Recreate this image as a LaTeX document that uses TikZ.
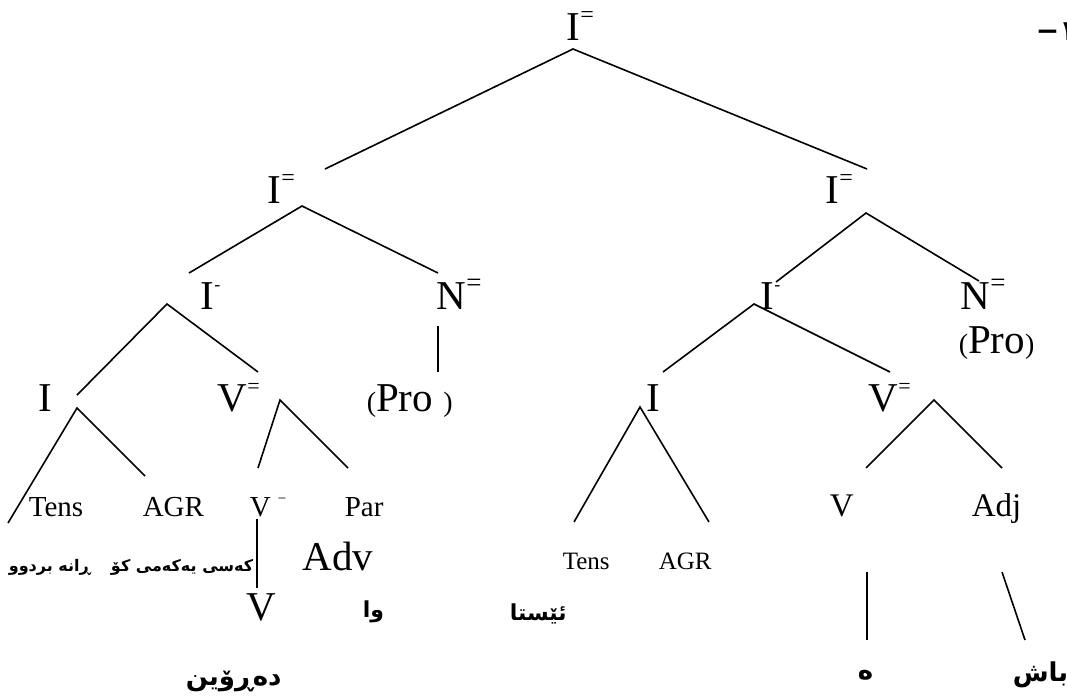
\documentclass[tikz,border=0pt]{standalone}
\usepackage{fontspec}
\usepackage{graphicx}
\setmainfont{Liberation Serif}
\newfontfamily\arabicfont[Script=Arabic]{DejaVu Sans}
\TeXXeTstate=1
\newcommand{\eqsup}[1][24]{\raisebox{18pt}{\fontsize{#1}{#1}\selectfont =}}
\newcommand{\hysup}{\raisebox{19pt}{\fontsize{18}{18}\selectfont -}}
\newcommand{\mnsup}{\raisebox{13pt}{\fontsize{15}{15}\selectfont −}}
\newcommand{\pn}[1]{{\fontsize{28}{28}\selectfont #1}}
\tikzset{
  lbl/.style={inner sep=0pt, anchor=base west},
  big/.style={lbl, font=\fontsize{41}{41}\selectfont},
  mid/.style={lbl, font=\fontsize{33}{33}\selectfont},
  sml/.style={lbl, font=\fontsize{29}{29}\selectfont},
  xsml/.style={lbl, font=\fontsize{25}{25}\selectfont},
  ku/.style={lbl, font=\arabicfont\bfseries\fontsize{#1}{#1}\selectfont}
}
\begin{document}
\begin{tikzpicture}[x=1pt, y=-1pt, line width=1.6pt]
    \useasboundingbox (0,0) rectangle (1067,697);
    \node[big] (top) at (566,40) {I\eqsup};
    \node[big] (ieL) at (267,203) {I\eqsup};
    \node[big] (ieR) at (825,203) {I\eqsup};
    \node[big] (ihL) at (200,309) {I\hysup};
    \node[big] (neL) at (436,309) {N\eqsup[27]};
    \node[big] (ihR) at (760,309) {I\hysup};
    \node[big] (neR) at (960,309) {N\eqsup[27]};
    \node[big] (proR) at (958,353) {\pn{(}Pro\pn{)}};
    \node[big] (iL) at (38,411) {I};
    \node[big] (veL) at (217,411) {V\eqsup[22]};
    \node[big] (proL) at (366,411) {\pn{(}Pro \pn{)}};
    \node[big] (iR) at (646,411) {I};
    \node[big] (veR) at (868,411) {V\eqsup[22]};
    \node[sml] (tnsL) at (28,516) {Tens};
    \node[sml] (agrL) at (142,516) {AGR};
    \node[sml] (vmL) at (249,516) {V \mnsup};
    \node[sml] (parL) at (344,516) {Par};
    \node[mid] (vR) at (829,516) {V};
    \node[mid] (adjR) at (971,516) {Adj};
    \node[big] (advL) at (302,570) {Adv};
    \node[big] (vLow) at (246,620) {V};
    \node[xsml] (tnsR) at (562,569) {Tens};
    \node[xsml] (agrR) at (658,569) {AGR};
    \node[ku=16] (kuTns) at (8,571) {\beginR ڕانە بردوو\endR};
    \node[ku=16, anchor=base east] (kuAgr) at (254,571) {\beginR کەسی یەکەمی کۆ\endR};
    \node[ku=22] (kuWa) at (362,617) {\beginR وا\endR};
    \node[ku=22] (kuNow) at (509,620) {\beginR ئێستا\endR};
    \node[ku=26] (kuGo) at (185,685) {\beginR دەڕۆین\endR};
    \node[ku=26] (kuE) at (857,679) {\beginR ە\endR};
    \node[ku=26] (kuGood) at (1012,681) {\beginR باش\endR};
    \node[ku=28] (num) at (1035,40) {\beginR ١−\endR};
    \coordinate (top-s) at (573,49);
    \coordinate (ieL-n) at (325,169);
    \coordinate (ieR-n) at (867,169);
    \coordinate (ieL-s) at (302,206);
    \coordinate (ihL-n) at (189,273);
    \coordinate (neL-n) at (438,273);
    \coordinate (ieR-s) at (866,213);
    \coordinate (ihR-n) at (776,282);
    \coordinate (neR-n) at (979,281);
    \coordinate (ihL-s) at (167,304);
    \coordinate (iL-n) at (77,395);
    \coordinate (veL-n) at (258,372);
    \coordinate (neL-s) at (438,326);
    \coordinate (proL-n) at (438,372);
    \coordinate (ihR-s) at (754,304);
    \coordinate (iR-n) at (663,372);
    \coordinate (veR-n) at (890,372);
    \coordinate (iL-s) at (77,408);
    \coordinate (tnsL-n) at (8,523);
    \coordinate (agrL-n) at (145,476);
    \coordinate (veL-s) at (280,400);
    \coordinate (vmL-n) at (258,468);
    \coordinate (parL-n) at (348,468);
    \coordinate (iR-s) at (640,407);
    \coordinate (tnsR-n) at (574,522);
    \coordinate (agrR-n) at (709,522);
    \coordinate (veR-s) at (934,400);
    \coordinate (vR-n) at (866,468);
    \coordinate (adjR-n) at (1002,468);
    \coordinate (vmL-s) at (257,519);
    \coordinate (vLow-n) at (257,588);
    \coordinate (vR-s) at (867,572);
    \coordinate (kuE-n) at (867,640);
    \coordinate (adjR-s) at (1002,572);
    \coordinate (kuGood-n) at (1025,640);
    \draw (ieL-n) -- (top-s) -- (ieR-n);
    \draw (ihL-n) -- (ieL-s) -- (neL-n);
    \draw (ihR-n) -- (ieR-s) -- (neR-n);
    \draw (iL-n) -- (ihL-s) -- (veL-n);
    \draw (neL-s) -- (proL-n);
    \draw (iR-n) -- (ihR-s) -- (veR-n);
    \draw (tnsL-n) -- (iL-s) -- (agrL-n);
    \draw (vmL-n) -- (veL-s) -- (parL-n);
    \draw (tnsR-n) -- (iR-s) -- (agrR-n);
    \draw (vR-n) -- (veR-s) -- (adjR-n);
    \draw (vmL-s) -- (vLow-n);
    \draw (vR-s) -- (kuE-n);
    \draw (adjR-s) -- (kuGood-n);
\end{tikzpicture}
\end{document}
